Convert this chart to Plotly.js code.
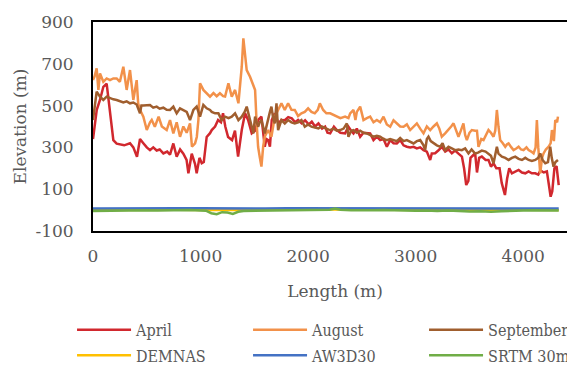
<!DOCTYPE html>
<html><head><meta charset="utf-8">
<script src="https://cdn.plot.ly/plotly-3.0.1.min.js"></script>
<style>html,body{margin:0;padding:0;overflow:hidden;background:#fff}#chart{width:600px;height:365px}</style>
</head><body><div id="chart"></div><script>
const aprilX = [0,35,65,96,127,158,189,220,250,290,344,375,409,437,468,500,530,560,592,620,654,690,716,747,778,810,840,870,887,918,949,964,990,1011,1030,1057,1088,1104,1135,1163,1190,1209,1230,1256,1293,1320,1349,1383,1414,1442,1476,1507,1535,1566,1597,1612,1628,1645,1662,1690,1724,1752,1783,1815,1848,1880,1907,1940,1972,2005,2034,2065,2096,2130,2158,2180,2205,2240,2267,2300,2344,2375,2400,2422,2453,2484,2515,2546,2577,2608,2639,2670,2701,2732,2763,2794,2825,2856,2887,2918,2949,2980,3011,3042,3073,3104,3120,3135,3150,3181,3210,3243,3275,3305,3336,3367,3398,3430,3450,3470,3490,3510,3553,3570,3590,3615,3650,3677,3700,3724,3750,3780,3800,3830,3850,3870,3895,3926,3957,3988,4019,4050,4080,4112,4140,4160,4190,4220,4240,4255,4270,4290,4310,4330];
const aprilY = [340,480,527,590,605,470,335,318,315,310,320,300,255,340,320,300,287,300,285,290,271,280,265,319,255,290,270,240,176,270,220,176,250,224,230,350,368,383,400,431,420,463,400,350,335,380,256,383,463,431,367,380,431,447,303,340,335,303,431,463,415,431,430,445,439,420,431,415,430,410,423,400,415,390,399,370,367,399,383,370,367,399,380,367,390,351,370,367,367,335,351,335,340,303,335,320,319,335,310,303,300,303,295,300,287,280,255,240,271,272,285,303,280,290,272,285,270,256,200,120,140,250,272,180,250,256,240,240,208,224,200,200,130,72,150,200,176,185,192,180,176,185,176,176,170,190,180,185,110,64,90,200,210,120];

const augustX = [0,15,34,50,65,96,127,158,189,220,250,282,313,344,375,406,420,437,468,500,530,546,575,610,640,685,716,747,778,809,840,871,902,920,949,965,980,995,1026,1057,1088,1120,1150,1180,1210,1228,1259,1290,1321,1352,1383,1398,1414,1429,1460,1491,1507,1520,1535,1550,1566,1582,1597,1628,1659,1690,1721,1752,1783,1814,1845,1876,1907,1938,1969,2000,2031,2062,2090,2109,2140,2170,2205,2236,2267,2300,2344,2375,2391,2422,2440,2453,2484,2515,2546,2577,2608,2639,2670,2701,2732,2763,2794,2825,2856,2887,2918,2949,2980,3011,3042,3073,3104,3135,3166,3197,3220,3243,3274,3305,3330,3352,3375,3398,3420,3444,3460,3476,3500,3522,3553,3570,3584,3610,3631,3655,3677,3700,3724,3740,3755,3770,3786,3810,3833,3850,3864,3890,3910,3935,3957,3980,4003,4030,4050,4075,4096,4115,4127,4140,4158,4175,4189,4210,4236,4255,4267,4285,4298,4315,4323];
const augustY = [622,640,678,575,654,614,630,622,630,630,614,686,575,670,527,622,511,480,447,383,420,431,399,447,400,383,431,367,420,351,400,370,415,303,319,350,431,607,575,559,543,560,545,559,545,543,607,543,575,511,686,822,750,670,638,591,575,431,303,255,208,303,351,383,351,447,479,511,479,511,480,479,450,463,470,487,470,463,480,511,479,463,463,455,447,440,447,440,463,479,431,470,495,431,440,447,420,431,420,447,410,399,430,415,400,399,410,383,400,415,390,367,400,383,400,415,390,351,367,383,400,415,380,351,380,415,360,335,370,383,380,380,303,340,335,360,383,370,351,380,479,400,335,320,303,315,319,300,287,295,303,290,287,300,287,280,271,300,431,300,176,250,271,290,303,320,383,330,431,420,447];

const septemberX = [0,15,34,65,96,127,158,189,220,250,282,313,344,375,406,437,450,468,500,530,560,592,620,654,685,716,747,778,809,840,871,902,933,964,995,1026,1057,1088,1104,1135,1166,1197,1228,1260,1290,1321,1352,1383,1410,1429,1445,1460,1476,1491,1507,1535,1550,1566,1597,1612,1628,1645,1659,1675,1690,1706,1721,1752,1783,1814,1845,1876,1907,1938,1969,2000,2031,2062,2096,2127,2158,2190,2205,2236,2267,2298,2330,2360,2375,2400,2422,2453,2484,2515,2546,2577,2608,2639,2670,2701,2732,2763,2794,2825,2856,2887,2918,2949,2980,3011,3042,3073,3088,3104,3119,3140,3166,3197,3228,3250,3274,3305,3336,3367,3398,3429,3460,3491,3520,3553,3580,3615,3650,3677,3700,3724,3740,3755,3770,3802,3833,3864,3895,3926,3957,3988,4019,4050,4080,4112,4140,4158,4180,4205,4230,4251,4265,4282,4300,4323];
const septemberY = [431,500,567,543,527,543,535,530,527,520,515,520,511,515,505,463,500,500,500,503,490,495,485,490,480,479,495,463,487,479,470,431,479,495,447,503,487,479,470,463,463,431,447,440,447,463,431,447,470,495,460,431,400,367,447,399,420,431,367,400,447,470,495,440,415,511,383,431,415,431,420,415,420,431,399,410,399,395,391,400,391,385,383,390,380,383,390,415,351,380,383,370,380,370,367,360,351,355,351,340,335,340,335,330,345,330,335,325,319,330,335,310,287,340,351,330,319,310,303,320,287,303,295,287,290,287,295,271,290,271,275,285,280,271,260,224,260,303,270,256,250,240,250,256,245,240,250,240,235,240,250,271,240,224,230,303,250,208,230,240];

const demX = [0,200,400,600,800,1000,1200,1400,1600,1800,2000,2200,2400,2600,2800,3000,3200,3400,3600,3800,4000,4200,4330];
const demY = [1,2,2,1,2,1,0,1,2,1,2,3,2,1,2,1,0,1,0,1,2,1,1];

const awX = [0,200,400,600,800,1000,1200,1400,1600,1800,2000,2200,2400,2600,2800,3000,3200,3400,3600,3800,4000,4200,4330];
const awY = [8,9,8,10,9,9,8,9,8,9,9,10,9,8,9,8,8,7,7,7,8,8,8];

const srtmX = [0,100,200,300,400,500,600,700,800,900,1000,1050,1100,1150,1200,1250,1300,1350,1400,1500,1600,1700,1800,1900,2000,2100,2200,2250,2300,2400,2500,2600,2700,2800,2900,3000,3100,3200,3300,3400,3500,3600,3700,3800,3900,4000,4100,4200,4300,4330];
const srtmY = [-4,-3,-2,-2,-1,-1,-2,-1,-1,0,-2,-3,-15,-20,-10,-12,-18,-8,-4,-3,-2,-3,-1,-2,-1,0,2,8,2,-1,-2,-1,0,-2,-1,-3,-2,-4,-2,-6,-7,-5,-8,-6,-3,-2,-1,-3,-2,-2];

const seriesNames = ['April','August','September','DEMNAS','AW3D30','SRTM 30m'];
const seriesColors = ['#D1282E','#F2914A','#A05E2E','#FFC000','#4472C4','#70AD47'];
const xTicks = [0,1000,2000,3000,4000];
const yTicks = [-100,100,300,500,700,900];

const xs = [aprilX, augustX, septemberX, demX, awX, srtmX];
const ys = [aprilY, augustY, septemberY, demY, awY, srtmY];
const traces = xs.map((x,i)=>({
  x: x, y: ys[i], type:'scatter', mode:'lines', name: seriesNames[i],
  legend: i < 3 ? 'legend' : 'legend2',
  line:{color: seriesColors[i], width:2.5}
}));

const serif = 'DejaVu Serif';
const legendFont = 'DejaVu Serif Condensed, DejaVu Serif';
const grey = '#595959';
const legendBase = {orientation:'h', x:-0.0433, xanchor:'left', yanchor:'top',
    entrywidth:107, itemwidth:54, font:{family:legendFont, size:16, color:grey},
    bgcolor:'rgba(0,0,0,0)', traceorder:'normal'};
const layout = {
  width:600, height:365,
  margin:{l:93, r:22.5, t:22, b:134, autoexpand:false},
  paper_bgcolor:'#fff', plot_bgcolor:'#fff',
  showlegend:true,
  xaxis:{range:[0,4500], tickvals:xTicks, ticktext:xTicks.map(String), showgrid:false, zeroline:false,
    showline:true, mirror:true, linecolor:'#000', linewidth:2, ticks:'', automargin:false,
    tickfont:{family:serif, size:17, color:grey}, ticklabelstandoff:9,
    title:{text:'Length (m)', font:{family:serif, size:17, color:grey}, standoff:20}},
  yaxis:{range:[-100,900], tickvals:yTicks, ticktext:yTicks.map(String), showgrid:false, zeroline:false,
    showline:true, mirror:true, linecolor:'#000', linewidth:2, ticks:'', automargin:false,
    tickfont:{family:serif, size:17, color:grey}, ticklabelstandoff:14,
    title:{text:'Elevation (m)', font:{family:serif, size:17, color:grey}, standoff:4}},
  legend:Object.assign({}, legendBase, {y:-0.392}),
  legend2:Object.assign({}, legendBase, {y:-0.514})
};
Plotly.newPlot('chart', traces, layout, {displayModeBar:false, staticPlot:true});
</script></body></html>
